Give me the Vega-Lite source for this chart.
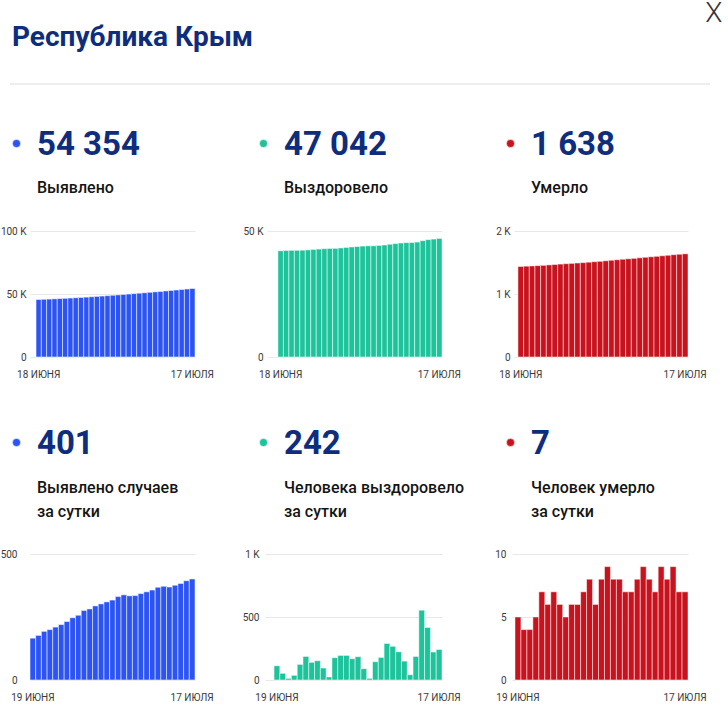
{
  "$schema": "https://vega.github.io/schema/vega-lite/v6.json",
  "padding": 0,
  "background": "white",
  "datasets": {
    "cum": [
      {"date": "2021-06-18", "cases": 45620, "recovered": 42160, "deaths": 1437},
      {"date": "2021-06-19", "cases": 45786, "recovered": 42273, "deaths": 1442},
      {"date": "2021-06-20", "cases": 45963, "recovered": 42326, "deaths": 1446},
      {"date": "2021-06-21", "cases": 46156, "recovered": 42339, "deaths": 1450},
      {"date": "2021-06-22", "cases": 46356, "recovered": 42376, "deaths": 1455},
      {"date": "2021-06-23", "cases": 46566, "recovered": 42500, "deaths": 1462},
      {"date": "2021-06-24", "cases": 46786, "recovered": 42687, "deaths": 1468},
      {"date": "2021-06-25", "cases": 47018, "recovered": 42827, "deaths": 1475},
      {"date": "2021-06-26", "cases": 47265, "recovered": 42980, "deaths": 1481},
      {"date": "2021-06-27", "cases": 47522, "recovered": 43075, "deaths": 1486},
      {"date": "2021-06-28", "cases": 47798, "recovered": 43099, "deaths": 1492},
      {"date": "2021-06-29", "cases": 48080, "recovered": 43276, "deaths": 1498},
      {"date": "2021-06-30", "cases": 48374, "recovered": 43471, "deaths": 1505},
      {"date": "2021-07-01", "cases": 48676, "recovered": 43666, "deaths": 1513},
      {"date": "2021-07-02", "cases": 48986, "recovered": 43835, "deaths": 1519},
      {"date": "2021-07-03", "cases": 49303, "recovered": 44020, "deaths": 1527},
      {"date": "2021-07-04", "cases": 49634, "recovered": 44110, "deaths": 1536},
      {"date": "2021-07-05", "cases": 49972, "recovered": 44123, "deaths": 1544},
      {"date": "2021-07-06", "cases": 50306, "recovered": 44268, "deaths": 1552},
      {"date": "2021-07-07", "cases": 50641, "recovered": 44447, "deaths": 1559},
      {"date": "2021-07-08", "cases": 50984, "recovered": 44737, "deaths": 1566},
      {"date": "2021-07-09", "cases": 51334, "recovered": 45004, "deaths": 1574},
      {"date": "2021-07-10", "cases": 51691, "recovered": 45228, "deaths": 1583},
      {"date": "2021-07-11", "cases": 52059, "recovered": 45378, "deaths": 1591},
      {"date": "2021-07-12", "cases": 52431, "recovered": 45420, "deaths": 1598},
      {"date": "2021-07-13", "cases": 52800, "recovered": 45607, "deaths": 1607},
      {"date": "2021-07-14", "cases": 53176, "recovered": 46161, "deaths": 1615},
      {"date": "2021-07-15", "cases": 53559, "recovered": 46578, "deaths": 1624},
      {"date": "2021-07-16", "cases": 53953, "recovered": 46800, "deaths": 1631},
      {"date": "2021-07-17", "cases": 54354, "recovered": 47042, "deaths": 1638}
    ],
    "daily": [
      {"date": "2021-06-19", "cases": 166, "recovered": 113, "deaths": 5},
      {"date": "2021-06-20", "cases": 177, "recovered": 53, "deaths": 4},
      {"date": "2021-06-21", "cases": 193, "recovered": 13, "deaths": 4},
      {"date": "2021-06-22", "cases": 200, "recovered": 37, "deaths": 5},
      {"date": "2021-06-23", "cases": 210, "recovered": 124, "deaths": 7},
      {"date": "2021-06-24", "cases": 220, "recovered": 187, "deaths": 6},
      {"date": "2021-06-25", "cases": 232, "recovered": 140, "deaths": 7},
      {"date": "2021-06-26", "cases": 247, "recovered": 153, "deaths": 6},
      {"date": "2021-06-27", "cases": 257, "recovered": 95, "deaths": 5},
      {"date": "2021-06-28", "cases": 276, "recovered": 24, "deaths": 6},
      {"date": "2021-06-29", "cases": 282, "recovered": 177, "deaths": 6},
      {"date": "2021-06-30", "cases": 294, "recovered": 195, "deaths": 7},
      {"date": "2021-07-01", "cases": 302, "recovered": 195, "deaths": 8},
      {"date": "2021-07-02", "cases": 310, "recovered": 169, "deaths": 6},
      {"date": "2021-07-03", "cases": 317, "recovered": 185, "deaths": 8},
      {"date": "2021-07-04", "cases": 331, "recovered": 90, "deaths": 9},
      {"date": "2021-07-05", "cases": 338, "recovered": 13, "deaths": 8},
      {"date": "2021-07-06", "cases": 334, "recovered": 145, "deaths": 8},
      {"date": "2021-07-07", "cases": 335, "recovered": 179, "deaths": 7},
      {"date": "2021-07-08", "cases": 343, "recovered": 290, "deaths": 7},
      {"date": "2021-07-09", "cases": 350, "recovered": 267, "deaths": 8},
      {"date": "2021-07-10", "cases": 357, "recovered": 224, "deaths": 9},
      {"date": "2021-07-11", "cases": 368, "recovered": 150, "deaths": 8},
      {"date": "2021-07-12", "cases": 372, "recovered": 42, "deaths": 7},
      {"date": "2021-07-13", "cases": 369, "recovered": 187, "deaths": 9},
      {"date": "2021-07-14", "cases": 376, "recovered": 554, "deaths": 8},
      {"date": "2021-07-15", "cases": 383, "recovered": 417, "deaths": 9},
      {"date": "2021-07-16", "cases": 394, "recovered": 222, "deaths": 7},
      {"date": "2021-07-17", "cases": 401, "recovered": 242, "deaths": 7}
    ]
  },
  "title": {"text": "X", "anchor": "end", "frame": "bounds", "dx": 12, "offset": -4, "font": "Roboto", "fontSize": 28, "fontWeight": 300, "color": "#333333"},
  "spacing": 43,
  "vconcat": [
    {
      "width": 680,
      "height": 1,
      "data": {"values": [{"line": "separator"}]},
      "title": {"text": "Республика Крым", "anchor": "start", "frame": "group", "dx": -18, "offset": 31, "fontSize": 28, "fontWeight": "bold", "font": "Roboto", "color": "#0e2d7d"},
      "mark": {"type": "rule", "color": "#dcdcdc", "strokeWidth": 1},
      "encoding": {
        "x": {"datum": 0, "type": "quantitative", "scale": {"domain": [0, 1], "range": [-20, 680]}, "axis": null},
        "x2": {"datum": 1},
        "y": {"datum": 0, "type": "quantitative", "scale": {"domain": [0, 1]}, "axis": null}
      }
    },
    {
      "spacing": 48,
      "vconcat": [
        {
          "hconcat": [
            {
              "data": {"name": "cum"},
              "width": 165, "height": 126,
              "title": {"text": "54 354", "subtitle": "Выявлено", "dx": 7, "offset": -56.5, "subtitlePadding": 18},
              "mark": {"type": "bar"},
              "encoding": {
                "x": {"field": "date", "type": "ordinal", "title": null, "scale": {"paddingInner": 0, "paddingOuter": 0.57, "align": 1}, "axis": {"values": ["2021-06-18", "2021-07-17"], "labelExpr": "datum.value == '2021-06-18' ? '18 ИЮНЯ' : '17 ИЮЛЯ'"}},
                "y": {"field": "cases", "type": "quantitative", "title": null, "scale": {"domain": [0, 100000]}, "axis": {"values": [0, 50000, 100000], "labelExpr": "datum.value >= 1000 ? (datum.value / 1000) + ' K' : datum.value"}},
                "color": {"datum": "Выявлено", "scale": {"range": ["#2c54f4"]}, "legend": {"title": null, "legendX": -18, "legendY": -92, "labelExpr": "''"}}
              }
            },
            {
              "data": {"name": "cum"},
              "width": 175, "height": 126,
              "title": {"text": "47 042", "subtitle": "Выздоровело", "dx": 17, "offset": -56.5, "subtitlePadding": 18},
              "mark": {"type": "bar"},
              "encoding": {
                "x": {"field": "date", "type": "ordinal", "title": null, "scale": {"paddingInner": 0, "paddingOuter": 1.0, "align": 1}, "axis": {"values": ["2021-06-18", "2021-07-17"], "labelExpr": "datum.value == '2021-06-18' ? '18 ИЮНЯ' : '17 ИЮЛЯ'"}},
                "y": {"field": "recovered", "type": "quantitative", "title": null, "scale": {"domain": [0, 50000]}, "axis": {"values": [0, 50000], "labelExpr": "datum.value >= 1000 ? (datum.value / 1000) + ' K' : datum.value"}},
                "color": {"datum": "Выздоровело", "scale": {"range": ["#1cc39b"]}, "legend": {"title": null, "legendX": -8, "legendY": -92, "labelExpr": "''"}}
              }
            },
            {
              "data": {"name": "cum"},
              "width": 174, "height": 126,
              "title": {"text": "1 638", "subtitle": "Умерло", "dx": 17, "offset": -56.5, "subtitlePadding": 18},
              "mark": {"type": "bar"},
              "encoding": {
                "x": {"field": "date", "type": "ordinal", "title": null, "scale": {"paddingInner": 0, "paddingOuter": 0.35, "align": 1}, "axis": {"values": ["2021-06-18", "2021-07-17"], "labelExpr": "datum.value == '2021-06-18' ? '18 ИЮНЯ' : '17 ИЮЛЯ'"}},
                "y": {"field": "deaths", "type": "quantitative", "title": null, "scale": {"domain": [0, 2000]}, "axis": {"values": [0, 1000, 2000], "labelExpr": "datum.value >= 1000 ? (datum.value / 1000) + ' K' : datum.value"}},
                "color": {"datum": "Умерло", "scale": {"range": ["#c8121e"]}, "legend": {"title": null, "legendX": -8, "legendY": -92, "labelExpr": "''"}}
              }
            }
          ],
          "spacing": 72,
          "bounds": "flush",
          "resolve": {"scale": {"x": "independent", "y": "independent", "color": "independent"}, "axis": {"x": "independent", "y": "independent"}, "legend": {"color": "independent"}}
        },
        {
          "hconcat": [
            {
              "data": {"name": "daily"},
              "width": 165, "height": 126,
              "title": {"text": "401", "subtitle": ["Выявлено случаев", "за сутки"], "dx": 7, "offset": -81.5, "subtitlePadding": 19},
              "mark": {"type": "bar"},
              "encoding": {
                "x": {"field": "date", "type": "ordinal", "title": null, "scale": {"paddingInner": 0, "paddingOuter": 0, "align": 1}, "axis": {"values": ["2021-06-19", "2021-07-17"], "labelExpr": "datum.value == '2021-06-19' ? '19 ИЮНЯ' : '17 ИЮЛЯ'"}},
                "y": {"field": "cases", "type": "quantitative", "title": null, "scale": {"domain": [0, 500]}, "axis": {"values": [0, 500], "labelPadding": 6, "offset": 7}},
                "color": {"datum": "Выявлено случаев за сутки", "scale": {"range": ["#2c54f4"]}, "legend": {"title": null, "legendX": -18, "legendY": -116, "labelExpr": "''"}}
              }
            },
            {
              "data": {"name": "daily"},
              "width": 177, "height": 126,
              "title": {"text": "242", "subtitle": ["Человека выздоровело", "за сутки"], "dx": 19, "offset": -81.5, "subtitlePadding": 19},
              "mark": {"type": "bar"},
              "encoding": {
                "x": {"field": "date", "type": "ordinal", "title": null, "scale": {"paddingInner": 0, "paddingOuter": 0.78, "align": 1}, "axis": {"values": ["2021-06-19", "2021-07-17"], "labelExpr": "datum.value == '2021-06-19' ? '19 ИЮНЯ' : '17 ИЮЛЯ'"}},
                "y": {"field": "recovered", "type": "quantitative", "title": null, "scale": {"domain": [0, 1000]}, "axis": {"values": [0, 500, 1000], "labelPadding": 6, "labelExpr": "datum.value >= 1000 ? (datum.value / 1000) + ' K' : datum.value"}},
                "color": {"datum": "Человека выздоровело за сутки", "scale": {"range": ["#1cc39b"]}, "legend": {"title": null, "legendX": -6, "legendY": -116, "labelExpr": "''"}}
              }
            },
            {
              "data": {"name": "daily"},
              "width": 176, "height": 126,
              "title": {"text": "7", "subtitle": ["Человек умерло", "за сутки"], "dx": 19, "offset": -81.5, "subtitlePadding": 19},
              "mark": {"type": "bar"},
              "encoding": {
                "x": {"field": "date", "type": "ordinal", "title": null, "scale": {"paddingInner": 0, "paddingOuter": 0.25, "align": 1}, "axis": {"values": ["2021-06-19", "2021-07-17"], "labelExpr": "datum.value == '2021-06-19' ? '19 ИЮНЯ' : '17 ИЮЛЯ'"}},
                "y": {"field": "deaths", "type": "quantitative", "title": null, "scale": {"domain": [0, 10]}, "axis": {"values": [0, 5, 10], "labelPadding": 6}},
                "color": {"datum": "Человек умерло за сутки", "scale": {"range": ["#c8121e"]}, "legend": {"title": null, "legendX": -6, "legendY": -116, "labelExpr": "''"}}
              }
            }
          ],
          "spacing": 70,
          "bounds": "flush",
          "resolve": {"scale": {"x": "independent", "y": "independent", "color": "independent"}, "axis": {"x": "independent", "y": "independent"}, "legend": {"color": "independent"}}
        }
      ]
    }
  ],
  "config": {
    "font": "Roboto",
    "view": {"stroke": null},
    "title": {"anchor": "start", "frame": "group", "font": "Roboto", "fontSize": 33, "fontWeight": "bold", "color": "#0e2d7d", "subtitleFont": "Roboto", "subtitleFontSize": 16, "subtitleFontWeight": 500, "subtitleColor": "#141414", "subtitleLineHeight": 24},
    "axis": {"labelFont": "Roboto", "labelColor": "#3a3a3a", "ticks": false, "domain": false},
    "axisX": {"grid": false, "labelAngle": 0, "labelFontSize": 10, "labelPadding": 12},
    "axisY": {"grid": true, "gridColor": "#e8e8e8", "labelFontSize": 10, "labelPadding": 4},
    "legend": {"orient": "none", "symbolType": "circle", "symbolSize": 64, "symbolStrokeWidth": 0, "symbolOpacity": 1, "labelFontSize": 1, "labelOffset": 0, "padding": 0},
    "bar": {"stroke": "white", "strokeOpacity": 0.5, "strokeWidth": 1}
  }
}
